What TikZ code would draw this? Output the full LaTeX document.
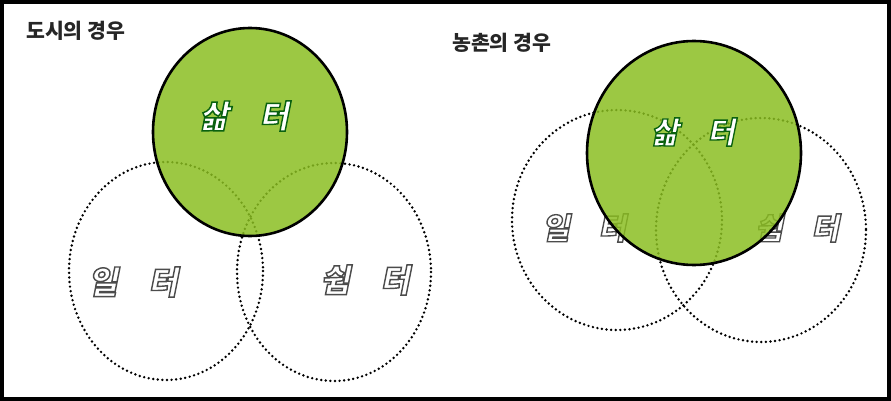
\documentclass[tikz,border=0pt]{standalone}
\usepackage{fontspec}
\newfontfamily\kr{Noto Sans CJK KR}
\newfontfamily\krb[FakeSlant=0.2,FakeBold=4,BoldFeatures={FakeSlant=0.2,FakeBold=4.5}]{Noto Sans CJK KR}
\definecolor{leaf}{RGB}{138,190,32}
\newcommand\strokegrey{\special{pdf:literal direct 0.3 0.3 0.3 RG}}
\newcommand\strokegreen{\special{pdf:literal direct 0.04 0.38 0.06 RG}}
\tikzset{
  dotc/.style={draw=black, line width=2.7pt, line cap=round, dash pattern=on 0pt off 4.6pt},
  life/.style={fill=leaf, fill opacity=0.84, draw=black, draw opacity=1, line width=2.6pt},
  ttl/.style={font=\kr\fontsize{20.5}{21}\selectfont\bfseries, text=black!85, anchor=west, inner sep=0pt},
  lab/.style={font=\krb\bfseries\fontsize{32}{32}\selectfont, inner sep=0pt},
  labs/.style={font=\krb\bfseries\fontsize{30}{30}\selectfont, inner sep=0pt}
}
\begin{document}
\begin{tikzpicture}[x=1pt,y=-1pt]
\useasboundingbox (0,0) rectangle (891,401);
\fill[white] (0,0) rectangle (891,401);
% left diagram
\draw[dotc] (166,271) ellipse [x radius=97, y radius=109];
\draw[dotc] (334,272) ellipse [x radius=97, y radius=109];
\node[lab] (lw) at (133,282) {\color{white}\strokegrey 일\hspace{0.95em}터};
\node[lab] (lr) at (365,280) {\color{white}\strokegrey 쉼\hspace{0.95em}터};
\path[life] (250,132) ellipse [x radius=97, y radius=104];
\node[lab] (ll) at (244,116) {\color{white}\strokegreen 삶\hspace{0.95em}터};
\node[ttl] (lt) at (26,31) {도시의 경우};
% right diagram
\draw[dotc] (617,220) ellipse [x radius=105, y radius=110];
\draw[dotc] (761,230) ellipse [x radius=105, y radius=112];
\node[labs] (rw) at (584,228) {\color{white}\strokegrey 일\hspace{0.95em}터};
\node[labs] (rr) at (797,228) {\color{white}\strokegrey 쉼\hspace{0.95em}터};
\path[life] (694,153) ellipse [x radius=107, y radius=112];
\node[labs] (rl) at (693,132) {\color{white}\strokegreen 삶\hspace{0.95em}터};
\node[ttl] (rt) at (452,43) {농촌의 경우};
% frame
\draw[line width=4pt] (2,2) rectangle (889,399);
\end{tikzpicture}
\end{document}
